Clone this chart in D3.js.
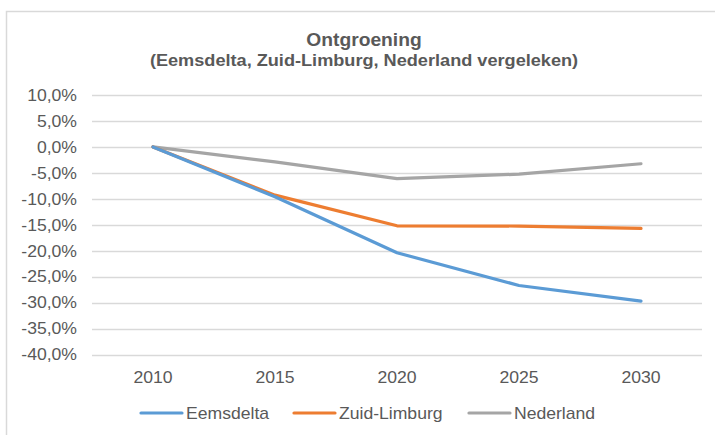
<!DOCTYPE html>
<html>
<head>
<meta charset="utf-8">
<script src="https://cdn.jsdelivr.net/npm/d3@7"></script>
<style>
  body { margin: 0; background: #fff; }
  svg { display: block; font-family: "Liberation Sans", Arial, sans-serif; }
</style>
</head>
<body>
<div id="chart"></div>
<script>
// values (fraction, not %)
const years = ["2010", "2015", "2020", "2025", "2030"];
const eemsdelta = [0, -0.096, -0.204, -0.267, -0.297];
const zuidLimburg = [0, -0.093, -0.152, -0.1525, -0.157];
const nederland = [0, -0.029, -0.061, -0.0525, -0.0325];
const yTicks = [0.1, 0.05, 0, -0.05, -0.1, -0.15, -0.2, -0.25, -0.3, -0.35, -0.4];

const series = [
    { name: "Eemsdelta", values: eemsdelta, color: "#5B9BD5" },
    { name: "Zuid-Limburg", values: zuidLimburg, color: "#ED7D31" },
    { name: "Nederland", values: nederland, color: "#A5A5A5" }
];

const width = 715, height = 435;
const plot = { left: 92, right: 702, top: 95, bottom: 354.5 };
const textColor = "#595959";
const stretch = 1.1; // text in the picture is a bit wider than normal Arial

const svg = d3.select("#chart")
    .append("svg")
    .attr("width", width)
    .attr("height", height);

// chart frame
svg.append("rect")
    .attr("x", 6.5)
    .attr("y", 11.5)
    .attr("width", 730)
    .attr("height", 450)
    .attr("fill", "none")
    .attr("stroke", "#d9d9d9")
    .attr("stroke-width", 1.5);

const x = d3.scaleBand()
    .domain(years)
    .range([plot.left, plot.right]);

const y = d3.scaleLinear()
    .domain([-0.4, 0.1])
    .range([plot.bottom, plot.top]);

const pct = v => d3.format(".1f")(v * 100).replace(".", ",").replace("−", "-") + "%";

function addText(g, tx, ty, str, anchor, size, bold) {
    return g.append("text")
        .attr("transform", `translate(${tx},${ty}) scale(${stretch},1)`)
        .attr("text-anchor", anchor)
        .attr("fill", textColor)
        .style("font-size", size + "px")
        .style("font-weight", bold ? "bold" : "normal")
        .text(str);
}

// gridlines
svg.append("g")
    .selectAll("line")
    .data(yTicks)
    .join("line")
    .attr("x1", plot.left)
    .attr("x2", plot.right)
    .attr("y1", d => Math.round(y(d)) + 0.5)
    .attr("y2", d => Math.round(y(d)) + 0.5)
    .attr("stroke", "#d9d9d9")
    .attr("stroke-width", 1.3);

// y axis labels
const yLab = svg.append("g");
yTicks.forEach(t => {
    addText(yLab, 77, y(t) + 5.8, pct(t), "end", 16, false);
});

// x axis labels
const xLab = svg.append("g");
years.forEach(yr => {
    addText(xLab, x(yr) + x.bandwidth() / 2, 383, yr, "middle", 16, false);
});

// lines
const line = d3.line()
    .x((d, i) => x(years[i]) + x.bandwidth() / 2)
    .y(d => y(d));

svg.append("g")
    .selectAll("path")
    .data(series.slice().reverse())
    .join("path")
    .attr("d", d => line(d.values))
    .attr("fill", "none")
    .attr("stroke", d => d.color)
    .attr("stroke-width", 3.2)
    .attr("stroke-linejoin", "round")
    .attr("stroke-linecap", "round");

// title
const title = svg.append("g");
addText(title, 364, 45.5, "Ontgroening", "middle", 17.5, true);
addText(title, 364, 66, "(Eemsdelta, Zuid-Limburg, Nederland vergeleken)", "middle", 16.5, true);

// legend
const legendX = [141, 294, 469];
const legend = svg.append("g");
series.forEach((s, i) => {
    legend.append("line")
        .attr("x1", legendX[i])
        .attr("x2", legendX[i] + 41)
        .attr("y1", 413)
        .attr("y2", 413)
        .attr("stroke", s.color)
        .attr("stroke-width", 3.2)
        .attr("stroke-linecap", "round");
    addText(legend, legendX[i] + 45, 418.5, s.name, "start", 16, false);
});
</script>
</body>
</html>
